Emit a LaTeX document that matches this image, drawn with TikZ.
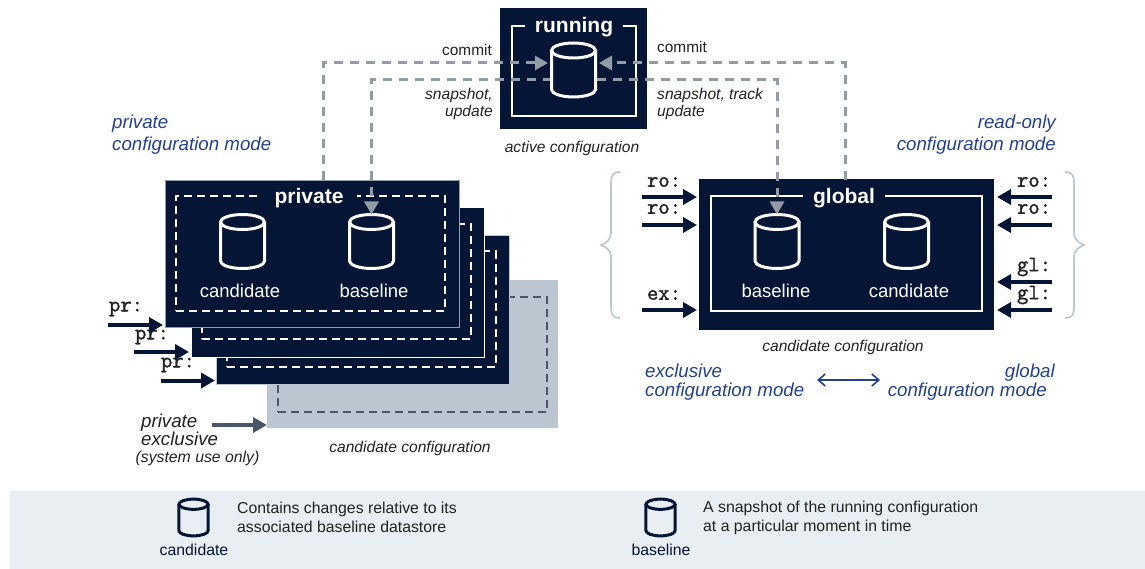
\documentclass[tikz,border=0pt]{standalone}
\usepackage{fontspec}
\setmainfont{Liberation Sans}
\newfontfamily\accfont[FakeBold=1.5]{Latin Modern Mono}
\usetikzlibrary{arrows.meta}
\definecolor{navy}{HTML}{051535}
\definecolor{slate}{HTML}{929CA6}
\definecolor{paleslate}{HTML}{BCC6D1}
\definecolor{darkslate}{HTML}{4A5568}
\definecolor{modeblue}{HTML}{24418F}
\definecolor{bandgrey}{HTML}{E9EEF3}
\definecolor{inkgrey}{HTML}{222222}
\tikzset{
  box/.style={anchor=north west,inner sep=0,outer sep=0,fill=navy},
  frame/.style={anchor=north west,inner sep=0,outer sep=0,draw=white,line width=2pt},
  drum/.pic={
    \draw[pic actions] (0,-19.5) ellipse [x radius=22,y radius=7.5];
    \draw[pic actions] (-22,-19.5) -- (-22,19.5) .. controls (-22,23.6) and (-12.15,27) .. (0,27) .. controls (12.15,27) and (22,23.6) .. (22,19.5) -- (22,-19.5);
    \coordinate (-north) at (0,-27);
  },
  dbcyl/.style={draw=white,line width=3pt},
  legcyl/.style={draw=navy,line width=3pt,xscale=0.66,yscale=0.68},
  boxtitle/.style={font=\fontsize{21}{22}\selectfont\bfseries,text=white,fill=navy,inner ysep=1pt,inner xsep=10pt},
  dblabel/.style={font=\fontsize{18.5}{20}\selectfont,text=white},
  small/.style={font=\fontsize{15.8}{19}\selectfont,text=inkgrey,align=left},
  caption/.style={font=\fontsize{15.6}{16.5}\selectfont\itshape,text=inkgrey},
  modename/.style={font=\fontsize{18.7}{19.5}\selectfont\itshape,text=modeblue},
  accname/.style={font=\fontsize{22}{22}\selectfont\accfont,text=inkgrey,inner sep=0},
  access/.style={navy,line width=4pt,-{Triangle[length=14pt,width=15pt]}},
  sync/.style={slate,line width=3pt,dash pattern=on 9pt off 7pt,-{Triangle[length=13pt,width=14pt]}},
}
\begin{document}
\begin{tikzpicture}[x=1pt,y=-1pt]
\useasboundingbox (0,0) rectangle (1145,569);
% legend band
\fill[bandgrey] (10,491) rectangle (1145,569);
\pic[legcyl] (legcand) at (193.5,517.5) {drum};
\pic[legcyl] (legbase) at (660.5,517.5) {drum};
\node[small,text=navy] (legcandname) at (194,550) {candidate};
\node[small,text=navy] (legbasename) at (661,550) {baseline};
\node[small,anchor=west,inner sep=0] (legcandtext) at (237,517.5) {Contains changes relative to its\\associated baseline datastore};
\node[small,anchor=west,inner sep=0] (legbasetext) at (703,517.5) {A snapshot of the running configuration\\at a particular moment in time};
% private stack, back to front
\node[box,fill=paleslate,minimum width=291pt,minimum height=148pt] (privgrey) at (267,280) {};
\node[frame,draw=darkslate,dash pattern=on 8pt off 5pt,minimum width=269pt,minimum height=115pt] (privgreyframe) at (278,297) {};
\node[box,draw=paleslate,minimum width=293pt,minimum height=149pt] (privthree) at (216,235) {};
\node[frame,dash pattern=on 8pt off 5pt,minimum width=269pt,minimum height=115pt] (privthreeframe) at (227,251.5) {};
\node[box,draw=white,minimum width=293pt,minimum height=150pt] (privtwo) at (191,207.5) {};
\node[frame,dash pattern=on 8pt off 5pt,minimum width=269pt,minimum height=115pt] (privtwoframe) at (202,224) {};
\node[box,draw=slate,minimum width=294pt,minimum height=147pt] (privbox) at (165,180.5) {};
\node[frame,dash pattern=on 8pt off 5pt,minimum width=269pt,minimum height=115pt] (privframe) at (176,196) {};
\node[boxtitle,inner xsep=13.5pt] (privtitle) at (309,198) {private};
\pic[dbcyl] (privcand) at (242.5,241.5) {drum};
\pic[dbcyl] (privbase) at (371.5,241.5) {drum};
\node[dblabel] (privcandname) at (240,291) {candidate};
\node[dblabel] (privbasename) at (374,291) {baseline};
% global
\node[box,minimum width=295pt,minimum height=150pt] (globbox) at (699,179.5) {};
\node[frame,minimum width=271pt,minimum height=115pt] (globframe) at (711,196) {};
\node[boxtitle] (globtitle) at (844,198) {global};
\pic[dbcyl] (globbase) at (777,241.5) {drum};
\pic[dbcyl] (globcand) at (906.5,241.5) {drum};
\node[dblabel] (globbasename) at (776,291) {baseline};
\node[dblabel] (globcandname) at (909,291) {candidate};
% running
\node[box,minimum width=147pt,minimum height=121pt] (runbox) at (500,8) {};
\node[frame,minimum width=124pt,minimum height=90pt] (runframe) at (512,26) {};
\node[boxtitle] (runtitle) at (574,27.5) {running};
% sync lines
\coordinate (commitleft) at (323,180);
\coordinate (commitright) at (845,180);
\coordinate (runwest) at (548,63);
\coordinate (runeast) at (599,63);
\coordinate (snapwest) at (552,80);
\coordinate (snapeast) at (597,80);
\draw[sync] (commitleft) |- (runwest);
\draw[sync] (commitright) |- (runeast);
\draw[sync] (snapwest) -| (privbase-north);
\draw[sync] (snapeast) -| (globbase-north);
\pic[dbcyl] (runcyl) at (573.5,70) {drum};
\node[small,anchor=east,inner sep=0,font=\fontsize{15.4}{17}\selectfont] (commitwest) at (492,50) {commit};
\node[small,anchor=west,inner sep=0,font=\fontsize{15.4}{17}\selectfont] (commiteast) at (657,47) {commit};
\node[caption,anchor=east,align=right,inner sep=0] (snapnamewest) at (493,104) {snapshot,\\update};
\node[caption,anchor=west,align=left,inner sep=0] (snapnameeast) at (657,104) {snapshot, track\\update};
\node[caption] (activename) at (572,148.5) {active configuration};
% access arrows
\foreach \n/\x/\y/\lx/\ly in {prone/108/325/126/309,prtwo/134/352/152/337,prthree/161/380.5/178/365}
{
  \coordinate (\n) at (\x,\y);
  \node[accname] (\n name) at (\lx,\ly) {pr:};
}
\draw[access,shorten >=2pt] (prone) -- (privbox.west |- prone);
\draw[access,shorten >=2pt] (prtwo) -- (privtwo.west |- prtwo);
\draw[access,shorten >=1pt] (prthree) -- (privthree.west |- prthree);
\foreach \n/\t/\y/\ly in {roa/ro:/197/182,rob/ro:/225/209,exa/ex:/310/295}
{
  \coordinate (\n) at (642,\y);
  \node[accname] (\n name) at (664,\ly) {\t};
  \draw[access] (\n) -- (697,\y);
}
\foreach \n/\t/\y/\ly in {roc/ro:/197/182,rod/ro:/225/209,gla/gl:/282/267,glb/gl:/310/295}
{
  \coordinate (\n) at (1052,\y);
  \node[accname] (\n name) at (1034,\ly) {\t};
  \draw[access] (\n) -- (997,\y);
}
\coordinate (sysuse) at (212,425);
\draw[access,darkslate] (sysuse) -- (privgrey.west |- sysuse);
\node[font=\fontsize{18.7}{17}\selectfont\itshape,text=inkgrey,align=left,anchor=west,inner sep=0] (sysname) at (141,430) {private\\exclusive};
\node[font=\fontsize{15.8}{16}\selectfont\itshape,text=inkgrey,inner sep=0] (sysnote) at (197.5,458.5) {(system use only)};
\node[caption] (privconfig) at (410,448) {candidate configuration};
\node[caption] (globconfig) at (843,347.5) {candidate configuration};
% braces
\draw[paleslate,line width=1.6pt] (620,172) .. controls (612,172) and (611,176) .. (611,184) -- (611,232) .. controls (611,240) and (606,243) .. (601,245) .. controls (606,247) and (611,250) .. (611,258) -- (611,306) .. controls (611,314) and (612,318) .. (620,318);
\draw[paleslate,line width=1.6pt] (1065,172) .. controls (1073,172) and (1074,176) .. (1074,184) -- (1074,232) .. controls (1074,240) and (1079,243) .. (1084,245) .. controls (1079,247) and (1074,250) .. (1074,258) -- (1074,306) .. controls (1074,314) and (1073,318) .. (1065,318);
% mode names
\node[modename,anchor=west,align=left,inner sep=0] (modeprivate) at (112,134.5) {private\\[2.5pt]configuration mode};
\node[modename,anchor=east,align=right,inner sep=0] (moderead) at (1056,134.5) {read-only\\[2.5pt]configuration mode};
\node[modename,anchor=west,align=left,inner sep=0] (modeexcl) at (645,382) {exclusive\\configuration mode};
\node[modename,anchor=east,align=right,inner sep=0] (modeglob) at (1055,382) {global\\configuration mode\hspace{8pt}\mbox{}};
\coordinate (modeleft) at (817,380);
\coordinate (moderight) at (880,380);
\draw[modeblue,line width=1.6pt,{Straight Barb[length=7pt,width=12pt]}-{Straight Barb[length=7pt,width=12pt]}] (modeleft) -- (moderight);
\end{tikzpicture}
\end{document}
